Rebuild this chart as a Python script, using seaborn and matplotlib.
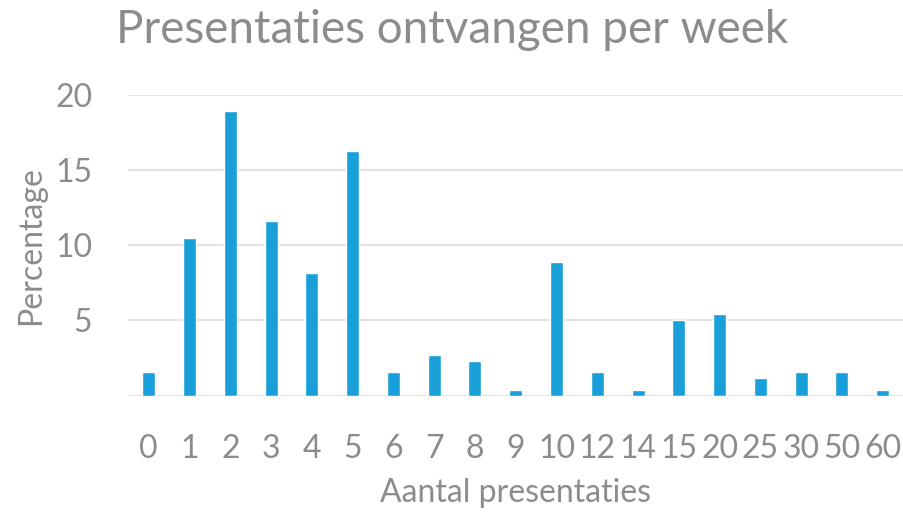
import matplotlib
matplotlib.use("Agg")
import matplotlib.pyplot as plt
import seaborn as sns
import pandas as pd

# Data (percentages)
categories = ["0", "1", "2", "3", "4", "5", "6", "7", "8", "9",
              "10", "12", "14", "15", "20", "25", "30", "50", "60"]
percentages = [1.55, 10.47, 18.99, 11.63, 8.14, 16.28, 1.55, 2.71, 2.33, 0.39,
               8.91, 1.55, 0.39, 5.04, 5.43, 1.16, 1.55, 1.55, 0.39]

df = pd.DataFrame({"aantal": categories, "pct": percentages})

sns.set_style("white")
plt.rcParams["font.family"] = ["Lato", "DejaVu Sans"]

grey = "#8c8c8c"
bar_color = "#1aa0d8"

fig = plt.figure(figsize=(9.04, 5.13), dpi=100)
ax = fig.add_axes([0.142, 0.229, 0.857, 0.585])

sns.barplot(data=df, x="aantal", y="pct", color=bar_color, width=0.32,
            saturation=1, ax=ax)

ax.set_ylim(0, 20)
ax.set_yticks([5, 10, 15, 20])
ax.yaxis.grid(True, color="#e3e3e3", linewidth=1.5)
ax.set_axisbelow(True)
ax.axhline(0, color="#e3e3e3", linewidth=1.5, zorder=0)
for s in ax.spines.values():
    s.set_visible(False)
ax.tick_params(axis="both", length=0, colors=grey, labelsize=23)
ax.tick_params(axis="x", pad=28)
ax.tick_params(axis="y", pad=26)
ax.set_xlabel("")
ax.set_ylabel("")

# axis titles
fig.text(515.5 / 904, 1 - 502 / 513, "Aantal presentaties", color=grey,
         fontsize=23, ha="center", va="baseline")
fig.text(31 / 904, 1 - 245.5 / 513, "Percentage", color=grey,
         fontsize=23, ha="center", va="center", rotation=90)

fig.text(0.5, 1 - 43 / 513, "Presentaties ontvangen per week", color=grey,
         fontsize=33, ha="center", va="baseline")

fig.savefig("out.png", dpi=100)
